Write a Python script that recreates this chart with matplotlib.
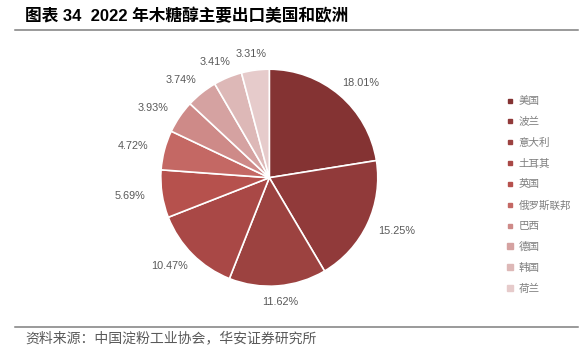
import matplotlib
matplotlib.use('agg')
import matplotlib.pyplot as plt
from matplotlib.lines import Line2D
import numpy as np

plt.rcParams['font.family'] = ['Liberation Sans', 'Noto Sans CJK SC', 'DejaVu Sans']

# 2022年木糖醇主要出口国家占比(%)
countries = ['美国', '波兰', '意大利', '土耳其', '英国', '俄罗斯联邦', '巴西', '德国', '韩国', '荷兰']
shares = [18.01, 15.25, 11.62, 10.47, 5.69, 4.72, 3.93, 3.74, 3.41, 3.31]
colors = ['#843333', '#913a3a', '#9c4240', '#a94846', '#b6514d', '#c46864',
          '#ce8a88', '#d5a2a1', '#ddb8b7', '#e6cbcb']

fig = plt.figure(figsize=(5.79, 3.55), dpi=100)

# pie axes, 3R square, centre at (269, 178) px
R = 108.5
side = 3 * R
ax = fig.add_axes([(269.3 - side / 2) / 579, (177.3 - side / 2) / 355, side / 579, side / 355])
wedges, texts = ax.pie(shares, colors=colors, startangle=90, counterclock=False,
                       labels=['%.2f%%' % v for v in shares], labeldistance=1.12,
                       wedgeprops=dict(edgecolor='white', linewidth=1.2),
                       textprops=dict(fontsize=7.8, color='#595959'))
ax.set_xlim(-1.5, 1.5)
ax.set_ylim(-1.5, 1.5)
ax.set_aspect('equal')
ax.axis('off')

# put labels outside like excel does
hw, hh = 0.18, 0.03
for w, t in zip(wedges, texts):
    ang = np.deg2rad((w.theta1 + w.theta2) / 2)
    x, y = t.get_position()
    t.set_position((x + np.cos(ang) * hw, y + np.sin(ang) * hh))
    t.set_ha('center')
    t.set_va('center')

# legend
handles = []
for i, (c, n) in enumerate(zip(colors, countries)):
    ms = 3.5 if i < 7 else 5
    handles.append(Line2D([], [], marker='s', linestyle='none', color=c, markersize=ms, label=n))
leg = fig.legend(handles=handles, loc='upper left', bbox_to_anchor=(503 / 579, 1 - 92 / 355),
                 frameon=False, fontsize=7.6, labelcolor='#7f7f7f', handlelength=0.6,
                 handletextpad=0.5, labelspacing=1.02, borderaxespad=0)

# title and source
fig.text(25 / 579, 1 - 16 / 355, '图表 34  2022 年木糖醇主要出口美国和欧洲', fontsize=12,
         fontweight='bold', color='black', va='center', ha='left')
fig.text(25 / 579, 1 - 338 / 355, '资料来源：中国淀粉工业协会，华安证券研究所', fontsize=10,
         color='#595959', va='center', ha='left')
fig.add_artist(Line2D([15 / 579, 578 / 579], [1 - 29.5 / 355] * 2, color='#7f7f7f', linewidth=1.1))
fig.add_artist(Line2D([15 / 579, 578 / 579], [1 - 327 / 355] * 2, color='#7f7f7f', linewidth=1.1))

plt.savefig('out.png', dpi=100)
